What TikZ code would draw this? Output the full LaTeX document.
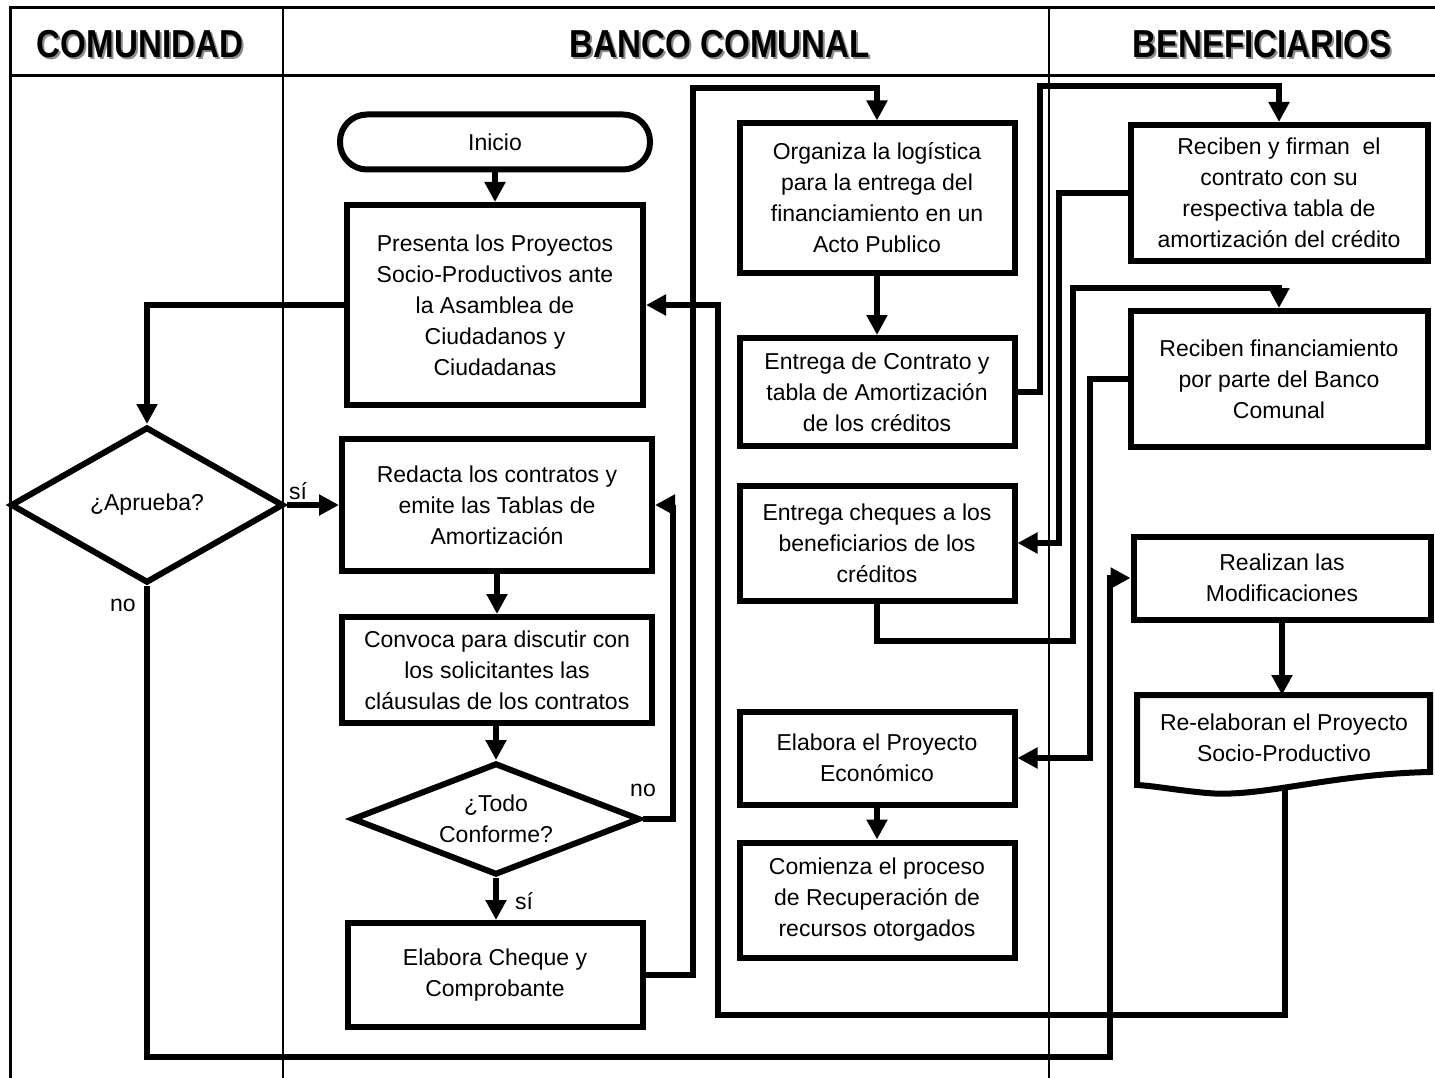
\documentclass[tikz,border=0pt]{standalone}
\usepackage{fontspec}
\setmainfont{Liberation Sans}
\newfontfamily\hdfont[FakeStretch=0.85]{Liberation Sans}
\usetikzlibrary{arrows.meta,shapes.geometric}
\newcommand\txtfont{\fontsize{23}{31}\selectfont}
\newcommand\hdsize{\hdfont\bfseries\fontsize{39}{44}\selectfont}
\begin{document}
\begin{tikzpicture}[x=1pt,y=-1pt,
  box/.style={draw, line width=6pt, rectangle, inner sep=0pt, align=center, font=\txtfont},
  dec/.style={draw, line width=6pt, shape=diamond, inner sep=0pt, align=center, font=\txtfont},
  arr/.style={line width=6pt, -{Triangle[length=20pt,width=20pt]}},
  lbl/.style={font=\txtfont, inner sep=0pt},
  hd/.style={font=\hdsize, inner sep=0pt},
  hdsh/.style={font=\hdsize, inner sep=0pt, text=black!45},
  lane/.style={line width=1.5pt},
  frame/.style={line width=3pt}]
\useasboundingbox (0,0) rectangle (1435,1078);
\fill[white] (0,0) rectangle (1435,1078);
% frame and lanes
\draw[frame] (10,1078) -- (10,8) -- (1435,8);
\draw[frame] (10,76) -- (1435,76);
\draw[lane] (283,8) -- (283,1078);
\draw[lane] (1049,8) -- (1049,1078);
% headers
\node[hdsh] (h1s) at (142,46) {COMUNIDAD};
\node[hd] (h1) at (140,44) {COMUNIDAD};
\node[hdsh] (h2s) at (722,46) {BANCO COMUNAL};
\node[hd] (h2) at (720,44) {BANCO COMUNAL};
\node[hdsh] (h3s) at (1264,46) {BENEFICIARIOS};
\node[hd] (h3) at (1262,44) {BENEFICIARIOS};
% nodes: Banco Comunal column 1
\node[box, rounded corners=27pt, minimum width=310pt, minimum height=55pt] (inicio) at (495,142) {Inicio};
\node[box, minimum width=296pt, minimum height=200pt] (presenta) at (495,305) {Presenta los Proyectos\\Socio-Productivos ante\\la Asamblea de\\Ciudadanos y\\Ciudadanas};
\node[dec, aspect=1.75, minimum width=273pt, minimum height=156pt] (aprueba) at (147,505) {¿Aprueba?};
\node[box, minimum width=310pt, minimum height=132pt] (redacta) at (497,505) {Redacta los contratos y\\emite las Tablas de\\Amortización};
\node[box, minimum width=310pt, minimum height=106pt] (convoca) at (497,670) {Convoca para discutir con\\los solicitantes las\\cláusulas de los contratos};
\node[dec, aspect=2.57, minimum width=288pt, minimum height=112pt] (todo) at (496,819) {¿Todo\\Conforme?};
\node[box, minimum width=295pt, minimum height=104pt] (cheque) at (495,975) {Elabora Cheque y\\Comprobante};
% Banco Comunal column 2
\node[box, minimum width=275pt, minimum height=149pt] (organiza) at (877,198) {Organiza la logística\\para la entrega del\\financiamiento en un\\Acto Publico};
\node[box, minimum width=275pt, minimum height=108pt] (entregac) at (877,392) {Entrega de Contrato y\\tabla de Amortización\\de los créditos};
\node[box, minimum width=275pt, minimum height=115pt] (cheques) at (877,543) {Entrega cheques a los\\beneficiarios de los\\créditos};
\node[box, minimum width=275pt, minimum height=93pt] (proyecto) at (877,758) {Elabora el Proyecto\\Económico};
\node[box, minimum width=275pt, minimum height=115pt] (comienza) at (877,900) {Comienza el proceso\\de Recuperación de\\recursos otorgados};
% Beneficiarios
\node[box, minimum width=297pt, minimum height=136pt] (firman) at (1279,193) {Reciben y firman\ \ el\\contrato con su\\respectiva tabla de\\amortización del crédito};
\node[box, minimum width=297pt, minimum height=136pt] (financ) at (1279,379) {Reciben financiamiento\\por parte del Banco\\Comunal};
\node[box, minimum width=297pt, minimum height=83pt] (realizan) at (1282,578) {Realizan las\\Modificaciones};
\draw[line width=6pt] (1137,785) -- (1137,695) -- (1430,695) -- (1430,772)
  .. controls (1330,774) and (1260,798) .. (1207,793)
  .. controls (1175,790) and (1155,786) .. (1137,785) -- cycle;
\node[lbl, align=center, minimum width=293pt] (reelab) at (1284,738) {Re-elaboran el Proyecto\\Socio-Productivo};
\coordinate (reelabtop) at (1282,695);
\coordinate (reelabbot) at (1285,788);
% connectors
\draw[arr] (inicio.south) -- (presenta.north);
\draw[arr] (presenta.west) -| (aprueba.north);
\draw[arr] (aprueba.east) -- (redacta.west);
\node[lbl] (si1) at (298,491) {sí};
\draw[arr] (aprueba.south) |- (1110,1057) |- (realizan.west);
\node[lbl] (no1) at (123,605) {no};
\draw[arr] (redacta.south) -- (convoca.north);
\draw[arr] (todo.north |- convoca.south) -- (todo.north);
\draw[arr] (todo.east) -| (673,505) -- (redacta.east);
\node[lbl] (no2) at (643,790) {no};
\draw[arr] (todo.south) -- (todo.south |- cheque.north);
\node[lbl] (si2) at (524,901) {sí};
\draw[arr] (cheque.east) -| (693,88) -| (organiza.north);
\draw[arr] (organiza.south) -- (entregac.north);
\draw[arr] (entregac.east) -| (1040,86) -| (firman.north);
\draw[arr] (firman.west) -| (1059,543) -- (cheques.east);
\draw[arr] (cheques.south) |- (1073,641) -- (1073,288) -| (financ.north);
\draw[arr] (financ.west) -| (1090,758) -- (proyecto.east);
\draw[arr] (proyecto.south) -- (comienza.north);
\draw[arr] (realizan.south) -- (reelabtop);
\draw[arr] (reelabbot) |- (718,1015) |- (presenta.east);
\end{tikzpicture}
\end{document}
